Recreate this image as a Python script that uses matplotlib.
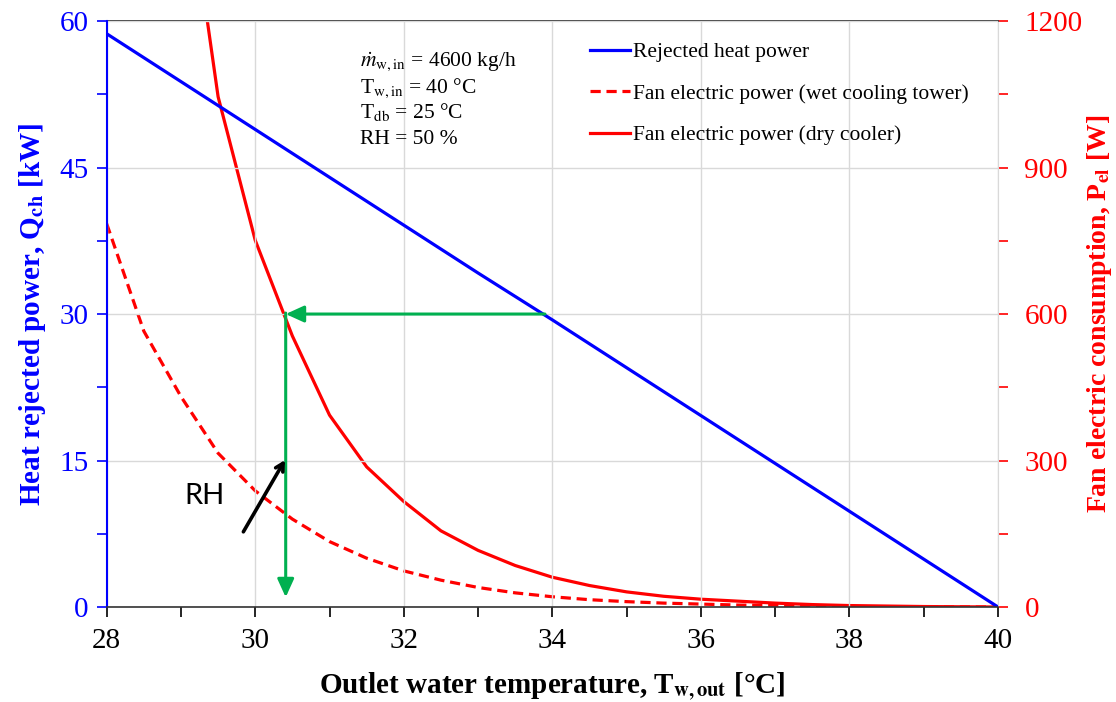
import matplotlib

matplotlib.use("Agg")
import matplotlib.pyplot as plt
from matplotlib.ticker import MultipleLocator

# outlet water temperature [°C]
t_heat = [28, 29, 30, 31, 32, 33, 34, 35, 36, 37, 38, 39, 40]
q_rejected = [58.7, 53.8, 48.9, 44.0, 39.1, 34.2, 29.4, 24.5, 19.6, 14.7, 9.8, 4.9, 0.0]

t_fan = [28.0, 28.5, 29.0, 29.5, 30.0, 30.5, 31.0, 31.5, 32.0, 32.5, 33.0, 33.5,
         34.0, 34.5, 35.0, 35.5, 36.0, 36.5, 37.0, 37.5, 38.0, 38.5, 39.0, 39.5, 40.0]
p_wet = [785, 565, 431, 315, 238, 180, 134, 100, 74, 55, 40, 29,
         21, 15, 11, 8, 6, 4, 3, 2, 1, 0.5, 0.3, 0.1, 0]
p_dry = [None, None, 1580, 1045, 751, 555, 393, 287, 216, 156, 116, 85,
         61, 44, 31, 22, 16, 12, 8, 5, 3, 2, 1, 0.5, 0]

# operating point
q_point = 30.0
t_point = 30.41
t_start = 33.9
q_tip = 1.0

BLUE = "#0000ff"
RED = "#ff0000"
GREEN = "#00b050"

plt.rcParams["font.family"] = ["Liberation Serif", "DejaVu Serif"]
plt.rcParams["mathtext.fontset"] = "stix"

fig = plt.figure(figsize=(11.16, 7.02), dpi=100)
ax = fig.add_axes([0.0956, 0.1353, 0.7987, 0.8347])
ax2 = ax.twinx()

ax.set_xlim(28, 40)
ax.set_ylim(0, 60)
ax2.set_ylim(0, 1200)

ax.xaxis.set_major_locator(MultipleLocator(2))
ax.xaxis.set_minor_locator(MultipleLocator(1))
ax.yaxis.set_major_locator(MultipleLocator(15))
ax.yaxis.set_minor_locator(MultipleLocator(7.5))
ax2.yaxis.set_major_locator(MultipleLocator(300))
ax2.yaxis.set_minor_locator(MultipleLocator(150))

ax.grid(True, which="major", color="#d9d9d9", lw=1.0)
ax.set_axisbelow(True)

ax.tick_params(axis="x", which="both", direction="out", length=7, width=1.2,
               colors="black", labelsize=21, pad=8)
ax.tick_params(axis="y", which="both", direction="out", length=7, width=1.2,
               colors=BLUE, labelsize=21, pad=6)
ax2.tick_params(axis="y", which="both", direction="out", length=7, width=1.2,
                colors=RED, labelsize=21, pad=12)

for side in ("top", "right"):
    ax.spines[side].set_visible(False)
ax.spines["left"].set_color(BLUE)
ax.spines["left"].set_linewidth(1.5)
ax.spines["bottom"].set_color("#333333")
ax.spines["bottom"].set_linewidth(1.2)
ax2.spines["left"].set_visible(False)
ax2.spines["bottom"].set_visible(False)
ax2.spines["top"].set_color("#333333")
ax2.spines["top"].set_linewidth(1.2)
ax2.spines["right"].set_color("#d9d9d9")

l_heat, = ax.plot(t_heat, q_rejected, color=BLUE, lw=2.3, label="Rejected heat power")
t_dry = [t for t, p in zip(t_fan, p_dry) if p is not None]
p_dry_vals = [p for p in p_dry if p is not None]
l_wet, = ax2.plot(t_fan, p_wet, color=RED, lw=2.3, ls=(0, (3.2, 1.8)),
                  label="Fan electric power (wet cooling tower)")
l_dry, = ax2.plot(t_dry, p_dry_vals, color=RED, lw=2.3,
                  label="Fan electric power (dry cooler)")

# left axis drawn over the right one so the arrows sit on top
ax2.set_zorder(ax.get_zorder() - 1)
ax.patch.set_visible(False)
ax2.patch.set_visible(True)

green_head = "-|>,head_length=1.1,head_width=0.5"
ax.annotate("", xy=(t_point, q_point), xytext=(t_start, q_point),
            arrowprops=dict(arrowstyle=green_head, color=GREEN, lw=2.2,
                            shrinkA=0, shrinkB=0))
ax.annotate("", xy=(t_point, q_tip), xytext=(t_point, q_point + 0.1),
            arrowprops=dict(arrowstyle=green_head, color=GREEN, lw=2.2,
                            shrinkA=0, shrinkB=0))

# RH arrow
ax.annotate("", xy=(30.40, 15.05), xytext=(29.84, 7.7),
            arrowprops=dict(arrowstyle="->,head_length=0.55,head_width=0.3",
                            color="black", lw=2.6, shrinkA=0, shrinkB=0))
ax.text(29.32, 11.4, "RH", fontsize=21, family=["Lato", "DejaVu Sans"],
        ha="center", va="center")

ax.set_xlabel(r"Outlet water temperature, T$_{\mathbf{w,out}}$ [°C]",
              fontsize=21, fontweight="bold", labelpad=12)
ax.set_ylabel(r"Heat rejected power, Q$_{\mathbf{ch}}$ [kW]",
              fontsize=21, fontweight="bold", color=BLUE, labelpad=8)
ax2.set_ylabel(r"Fan electric consumption, P$_{\mathbf{el}}$ [W]",
               fontsize=20, fontweight="bold", color=RED, labelpad=2)

notes = [
    r"$\dot{m}_{\mathrm{w,in}}$ = 4600 kg/h",
    r"T$_{\mathrm{w,in}}$ = 40 °C",
    r"T$_{\mathrm{db}}$ = 25 °C",
    r"RH = 50 %",
]
for i, line in enumerate(notes):
    fig.text(360 / 1116, 1 - (67 + 25.5 * i) / 702, line, fontsize=15.5,
             va="baseline", ha="left")

fig.legend(handles=[l_heat, l_wet, l_dry], loc="upper left",
           bbox_to_anchor=(590 / 1116, 1 - 42 / 702), frameon=False,
           fontsize=15.5, handlelength=1.85, handletextpad=0.15,
           labelspacing=1.0, borderpad=0, borderaxespad=0)

fig.savefig("out.png", dpi=100)
